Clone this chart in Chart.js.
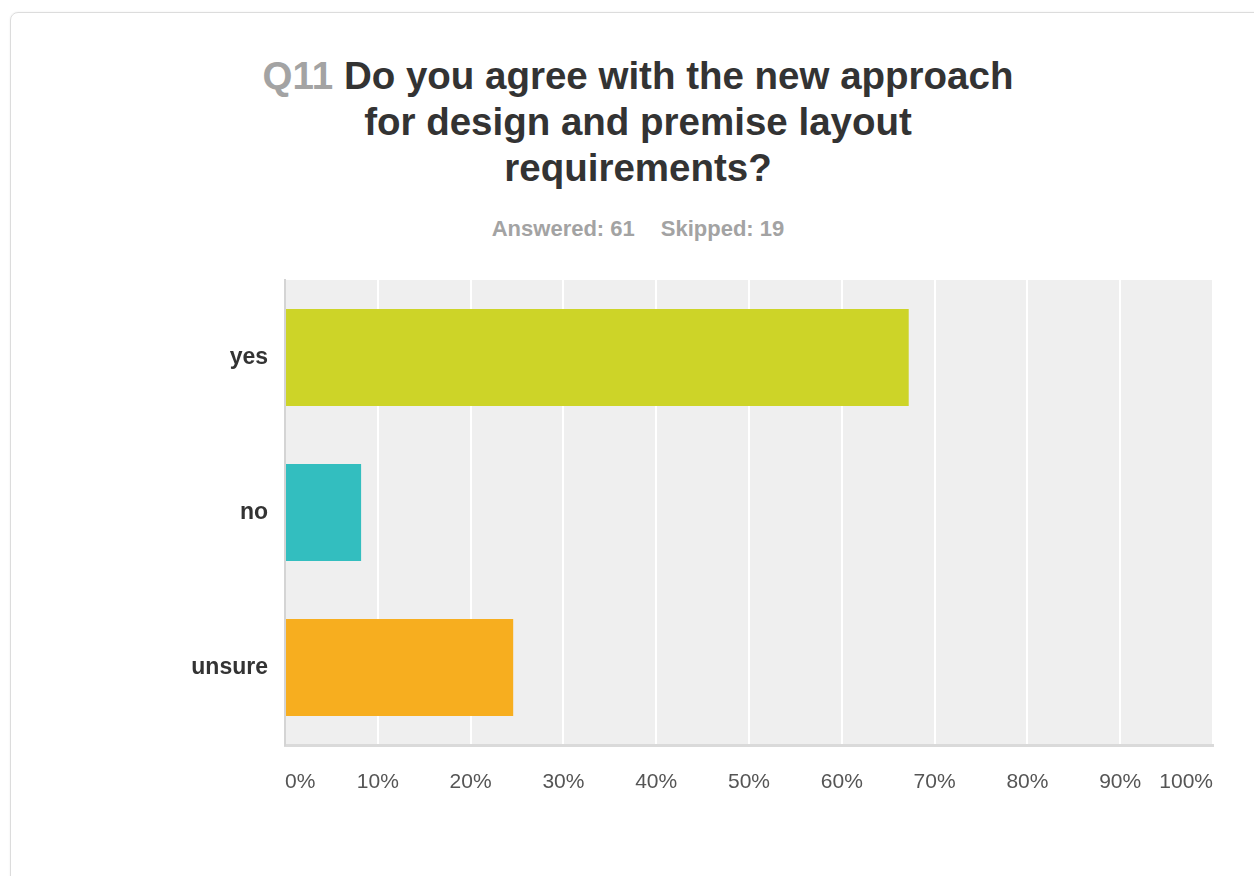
<!DOCTYPE html>
<html>
<head>
<meta charset="utf-8">
<script src="https://cdn.jsdelivr.net/npm/chart.js@4/dist/chart.umd.min.js"></script>
<style>
  html, body { margin: 0; padding: 0; background: #fff; }
  body { width: 1254px; height: 876px; position: relative; overflow: hidden;
         font-family: "Liberation Sans", Arial, sans-serif; }
  .card { position: absolute; left: 10px; top: 12px; width: 1320px; height: 940px;
          border: 1px solid #dcdcdc; border-radius: 8px; box-shadow: 0 0 2px rgba(0,0,0,0.08); }
  .title { position: absolute; left: 138px; width: 1000px; top: 53px; text-align: center;
           white-space: nowrap; font-size: 38.5px; line-height: 46px; font-weight: bold; color: #333; }
  .title .qnum { color: #a3a3a3; }
  .stats { position: absolute; left: 0; width: 1276px; top: 216px; text-align: center;
           font-size: 22px; line-height: 25px; font-weight: bold; color: #a3a3a3; }
  .stats span + span { margin-left: 26px; }
  #chart { position: absolute; left: 0; top: 0; }
</style>
</head>
<body>
<div class="card"></div>
<div class="title"><span class="qnum">Q11</span> Do you agree with the new approach<br>for design and premise layout<br>requirements?</div>
<div class="stats"><span>Answered: 61</span><span>Skipped: 19</span></div>
<canvas id="chart" width="1254" height="876"></canvas>
<script>
// answer options and share of respondents (%)
const answers = ['yes', 'no', 'unsure'];
const shares = [67.21, 8.20, 24.59];
const barColors = ['#cdd428', '#33bebf', '#f7ae1f'];
const xTickLabels = ['0%', '10%', '20%', '30%', '40%', '50%', '60%', '70%', '80%', '90%', '100%'];

// grey plot background behind the bars
const plotBackground = {
    id: 'plotBackground',
    beforeDraw(chart) {
        const { ctx, chartArea } = chart;
        ctx.save();
        ctx.fillStyle = '#efefef';
        ctx.fillRect(chartArea.left, chartArea.top, chartArea.width, chartArea.height);
        ctx.restore();
    }
};

const ctx = document.getElementById('chart').getContext('2d');
const myChart = new Chart(ctx, {
    type: 'bar',
    data: {
        labels: answers,
        datasets: [{
            data: shares,
            backgroundColor: barColors,
            borderWidth: 0,
            barPercentage: 0.626,
            categoryPercentage: 1
        }]
    },
    options: {
        indexAxis: 'y',
        responsive: false,
        animation: false,
        devicePixelRatio: 1,
        layout: { padding: { left: 0, top: 280, right: 41, bottom: 71 } },
        plugins: {
            legend: { display: false },
            tooltip: { enabled: false }
        },
        scales: {
            x: {
                min: 0,
                max: 100,
                grid: { color: '#ffffff', lineWidth: 2, drawTicks: false },
                border: { color: '#dadada', width: 3 },
                ticks: {
                    stepSize: 10,
                    align: 'inner',
                    padding: 25,
                    color: '#555',
                    font: { family: '"Liberation Sans", Arial, sans-serif', size: 21 },
                    callback: (v, i) => xTickLabels[i]
                },
                afterFit: scale => { scale.height = 60; }
            },
            y: {
                grid: { display: false, drawTicks: false },
                border: { color: '#d4d4d4', width: 2 },
                ticks: {
                    padding: 17,
                    color: '#333',
                    font: { family: '"Liberation Sans", Arial, sans-serif', size: 23, weight: 'bold' }
                },
                afterFit: scale => { scale.width = 285; }
            }
        }
    },
    plugins: [plotBackground]
});
</script>
</body>
</html>
